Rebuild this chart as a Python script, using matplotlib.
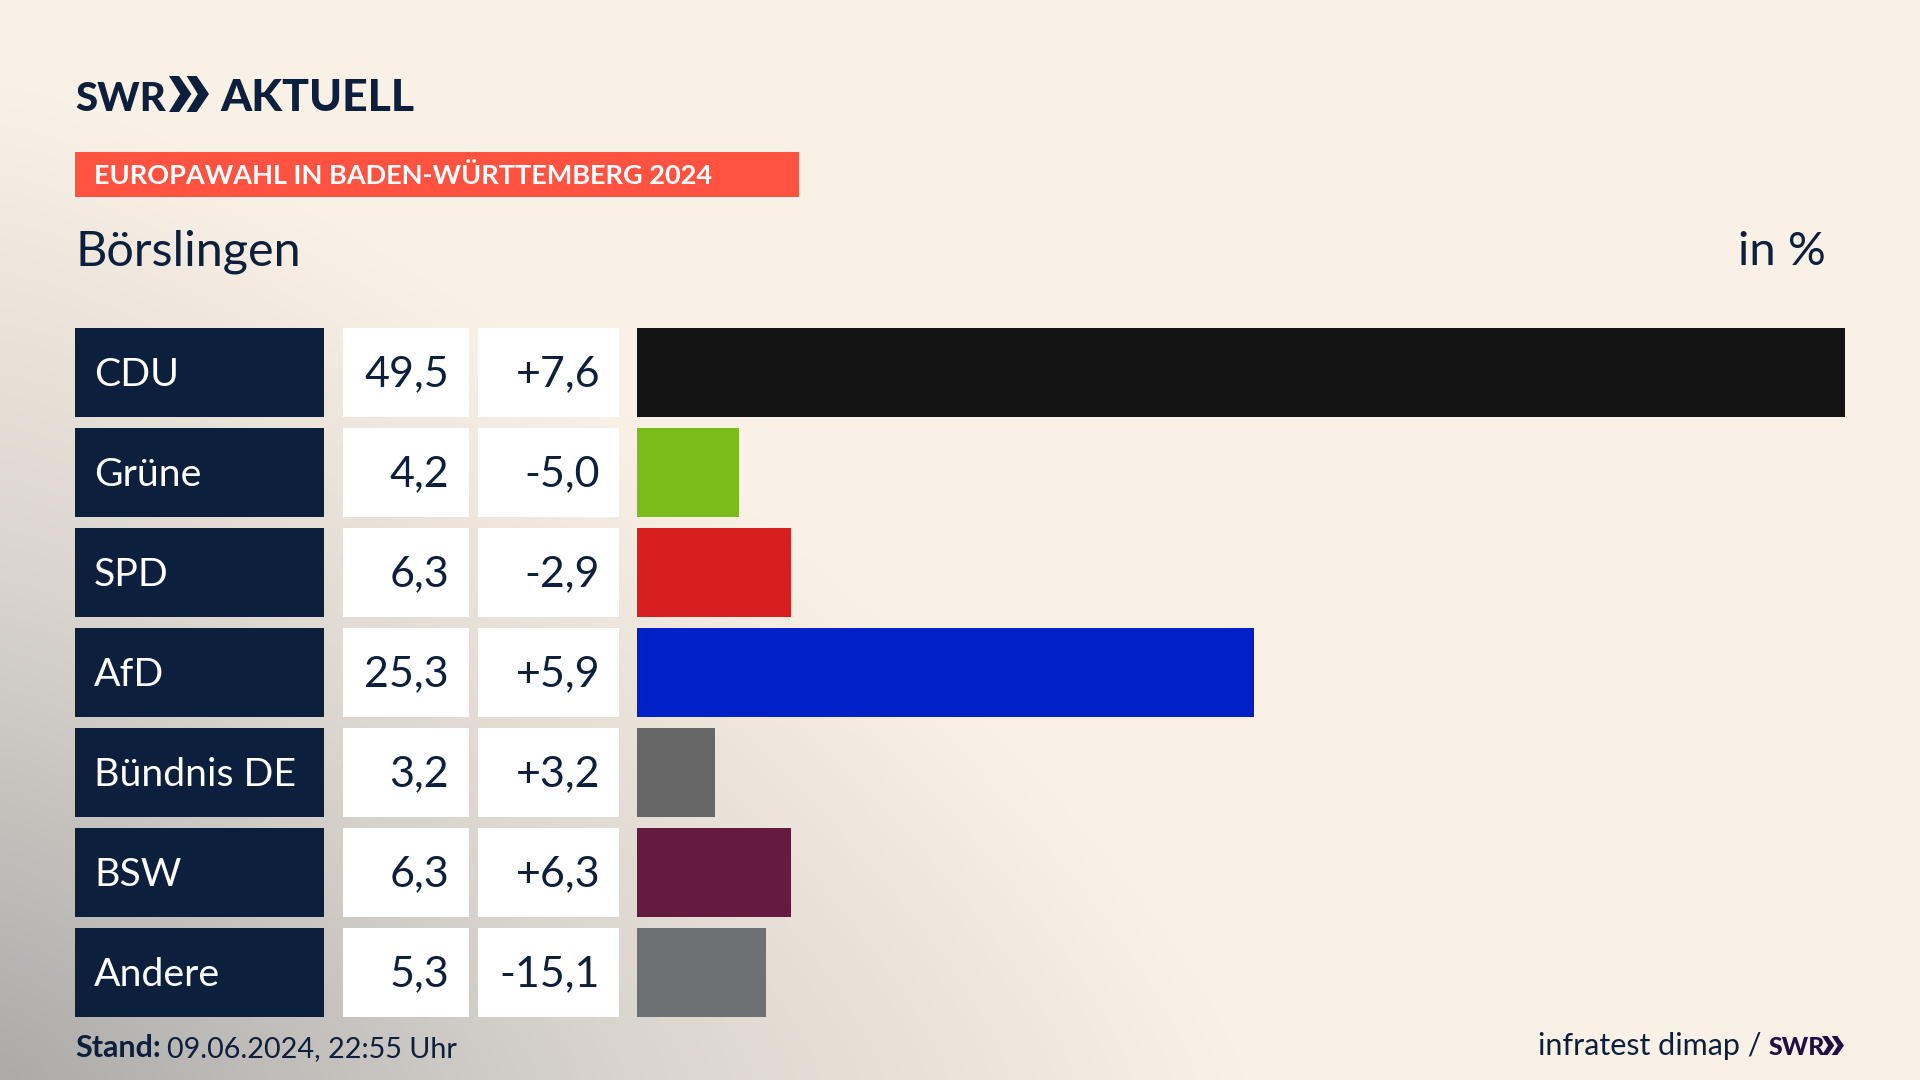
import numpy as np
import matplotlib
matplotlib.use("Agg")
import matplotlib.pyplot as plt
from matplotlib.colors import LinearSegmentedColormap
from matplotlib.patches import Rectangle, Polygon

parties = ["CDU", "Grüne", "SPD", "AfD", "Bündnis DE", "BSW", "Andere"]
shares = [49.5, 4.2, 6.3, 25.3, 3.2, 6.3, 5.3]
share_labels = ["49,5", "4,2", "6,3", "25,3", "3,2", "6,3", "5,3"]
diff_labels = ["+7,6", "-5,0", "-2,9", "+5,9", "+3,2", "+6,3", "-15,1"]
bar_colors = ["#141414", "#7ABD1B", "#D71F1D", "#0021C7", "#666666", "#651A3F", "#6F7073"]

NAVY = "#0C1F3D"

plt.rcParams["font.family"] = ["Lato", "DejaVu Sans"]

fig = plt.figure(figsize=(19.2, 10.8), dpi=100)

# Layout axes in pixels, background and boxes live here
bg = fig.add_axes([0, 0, 1, 1])
bg.set_xlim(0, 1920)
bg.set_ylim(1080, 0)
bg.axis("off")

# Grey shadow coming from the lower left corner
xx, yy = np.meshgrid(np.linspace(0, 1920, 480), np.linspace(0, 1080, 270))
dist = ((xx / 1250) ** 1.3 + ((1080 - yy) / 1000) ** 1.3) ** (1 / 1.3)
shade = np.clip(1 - dist, 0, 1)
cmap = LinearSegmentedColormap.from_list("bg", ["#FAF1E6", "#D9D4CD", "#ACABAA"])
bg.imshow(shade, extent=[0, 1920, 1080, 0], cmap=cmap, vmin=0, vmax=1, aspect="auto", zorder=0)


def chevrons(ax, x, y, w, h, color):
    # two arrow heads of the SWR logo, top left at x, y
    part = w * 0.56
    for offset in [0, w - part]:
        ax.add_patch(Polygon(
            [(x + offset, y), (x + offset + part * 0.45, y), (x + offset + part, y + h / 2),
             (x + offset + part * 0.45, y + h), (x + offset, y + h), (x + offset + part * 0.5, y + h / 2)],
            closed=True, facecolor=color, edgecolor="none", zorder=3))


# Logo
bg.text(75, 111, "SWR", fontsize=29, fontweight="black", color=NAVY, va="baseline", zorder=3)
chevrons(bg, 169, 76, 40, 36, NAVY)
bg.text(220, 111, "AKTUELL", fontsize=32, fontweight="black", color=NAVY, va="baseline", zorder=3)

# Banner
bg.add_patch(Rectangle((75, 152), 724, 45, facecolor="#FF5240", edgecolor="none", zorder=2))
bg.text(94, 184, "EUROPAWAHL IN BADEN-WÜRTTEMBERG 2024", fontsize=19.5, fontweight="bold",
        color="white", va="baseline", zorder=3)

bg.text(76, 265, "Börslingen", fontsize=35, color=NAVY, va="baseline", zorder=3)
bg.text(1826, 265, "in %", fontsize=34, color=NAVY, va="baseline", ha="right", zorder=3)

# Rows: label box, share box, diff box
for i, (party, share, diff) in enumerate(zip(parties, share_labels, diff_labels)):
    top = 328 + 100 * i
    base = top + 58
    bg.add_patch(Rectangle((75, top), 249, 89, facecolor=NAVY, edgecolor="none", zorder=2))
    bg.add_patch(Rectangle((343, top), 126, 89, facecolor="white", edgecolor="none", zorder=2))
    bg.add_patch(Rectangle((478, top), 140.5, 89, facecolor="white", edgecolor="none", zorder=2))
    bg.text(94, base, party, fontsize=28.3, color="white", va="baseline", zorder=3)
    bg.text(449, base, share, fontsize=31, color=NAVY, va="baseline", ha="right", zorder=3)
    bg.text(600, base, diff, fontsize=31, color=NAVY, va="baseline", ha="right", zorder=3)

# Bars
ax = fig.add_axes([637 / 1920, 1 - 1022 / 1080, (1845 - 637) / 1920, 700 / 1080])
ax.patch.set_alpha(0)
ax.barh(range(len(parties)), shares, height=0.89, color=bar_colors)
ax.set_xlim(0, 49.5)
ax.set_ylim(6.5, -0.5)
ax.axis("off")

# Footer
bg.text(75, 1057, "Stand:", fontsize=22, fontweight="bold", color=NAVY, va="baseline", zorder=3)
bg.text(167, 1057, "09.06.2024, 22:55 Uhr", fontsize=20.7, color=NAVY, va="baseline", zorder=3)
bg.text(1762, 1055, "infratest dimap /", fontsize=22, color=NAVY, va="baseline", ha="right", zorder=3)
bg.text(1769, 1055, "SWR", fontsize=18, fontweight="black", color="#1F0F45", va="baseline", zorder=3)
chevrons(bg, 1822, 1036, 22, 19, "#1F0F45")

fig.savefig("out.png", dpi=100)
